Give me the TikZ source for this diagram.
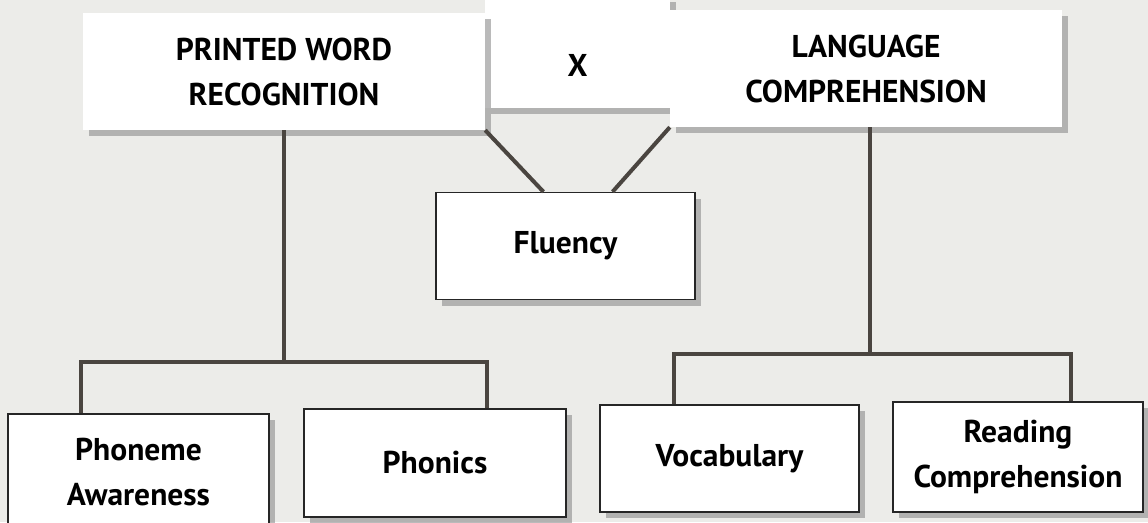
\documentclass[tikz,border=0pt]{standalone}
\usepackage{fontspec}
\setmainfont{PT Sans}
\usepackage{tikz}
\usetikzlibrary{shadows}
\definecolor{paper}{RGB}{236,236,233}
\definecolor{wire}{RGB}{74,69,64}

\begin{document}
\begin{tikzpicture}[x=1pt,y=-1pt]
						\tikzstyle{head}=[fill=white,inner sep=0pt,align=center,font=\bfseries\fontsize{31.5}{45}\selectfont,drop shadow={shadow xshift=6pt,shadow yshift=-6pt,fill=black!45,opacity=.6}]
						\tikzstyle{leaf}=[head,draw=black!85,line width=1.3pt]
						\tikzstyle{link}=[draw=wire,line width=4pt]
						\useasboundingbox[fill=paper] (0,0) rectangle (1148,522);
						\node[head,minimum width=185pt,minimum height=112pt,text height=49pt,text depth=0pt] (x) at (577.5,52) {X};
						\node[head,minimum width=402pt,minimum height=117pt] (pwr) at (284,71.5) {PRINTED WORD\\RECOGNITION};
						\node[head,minimum width=392pt,minimum height=117pt] (lc) at (866,68.5) {LANGUAGE\\COMPREHENSION};
						\node[leaf,minimum width=259pt,minimum height=107pt] (flu) at (565.5,246) {Fluency};
						\node[leaf,minimum width=261pt,minimum height=116pt] (pa) at (138.5,472) {Phoneme\\Awareness};
						\node[leaf,minimum width=262pt,minimum height=108pt] (ph) at (435,463) {Phonics};
						\node[leaf,minimum width=259pt,minimum height=107pt] (voc) at (729.5,458.5) {Vocabulary};
						\node[leaf,minimum width=250pt,minimum height=110pt] (rc) at (1018,457) {Reading\\Comprehension};
						\coordinate (lj) at (284,362);
						\coordinate (la) at (81,362);
						\coordinate (lb) at (487,362);
						\coordinate (rj) at (870,354);
						\coordinate (ra) at (674,354);
						\coordinate (rb) at (1071,354);
						\draw[link] (pwr.south east) -- ([xshift=-22pt]flu.north);
						\draw[link] (lc.south west) -- ([xshift=47pt]flu.north);
						\draw[link] (pwr.south) -- (lj);
						\draw[link] (la |- pa.north) -- (la) -- (lb) -- (lb |- ph.north);
						\draw[link] (lc.south -| rj) -- (rj);
						\draw[link] (ra |- voc.north) -- (ra) -- (rb) -- (rb |- rc.north);
						\end{tikzpicture}
\end{document}
